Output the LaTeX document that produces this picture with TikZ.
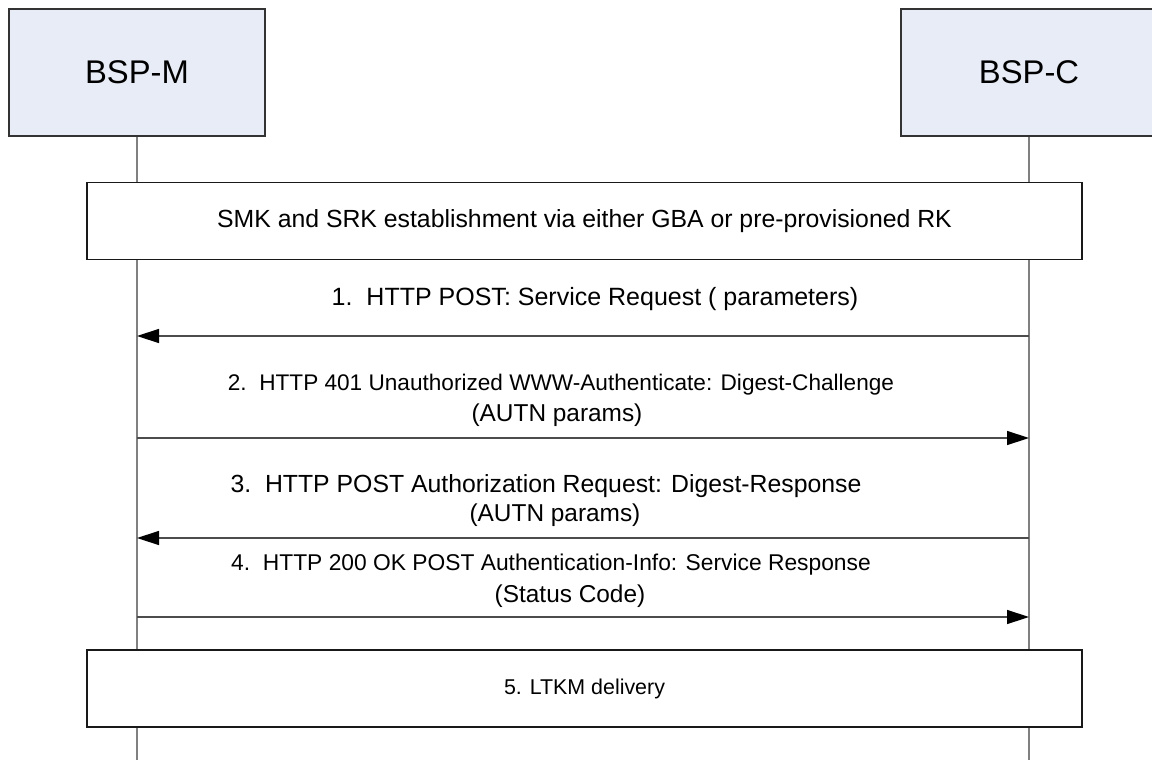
\documentclass[tikz,border=0pt]{standalone}
\usepackage{fontspec}
\setmainfont{Liberation Sans}
\usepackage{tikz}
\usetikzlibrary{arrows.meta,positioning,calc}
\definecolor{actorfill}{HTML}{E7ECF6}

\begin{document}
\begin{tikzpicture}[
  x=0.5pt, y=-0.5pt,
  actor/.style={draw=black!80, fill=actorfill, line width=0.6pt, minimum width=128pt, minimum height=63.5pt, font=\fontsize{16.4}{19}\selectfont},
  frame/.style={draw=black!90, fill=white, line width=0.6pt, minimum width=497.5pt, minimum height=38.5pt, font=\fontsize{12.4}{15}\selectfont},
  life/.style={draw=black!50, line width=0.9pt},
  msg/.style={-{Triangle[length=11pt,width=7pt,color=black]}, draw=black!70, line width=0.7pt},
  lbl/.style={font=\fontsize{12.2}{15}\selectfont, inner sep=0pt}
]
\useasboundingbox (0,0) rectangle (1152,760);
\node[actor] (M) at (137,72.5) {BSP-M};
\node[actor] (C) at (1029,72.5) {BSP-C};
\coordinate (Mend) at (137,760);
\coordinate (Cend) at (1029,760);
\draw[life] (M.south) -- (Mend);
\draw[life] (C.south) -- (Cend);
\node[frame] (smk)  at (584.5,221)   {SMK and SRK establishment via either GBA or pre-provisioned RK};
\node[frame, font=\fontsize{10.7}{13}\selectfont] (ltkm) at (584.5,688.5) {5. LTKM delivery};
% message end points on the lifelines
\coordinate (M1) at (137,336);  \coordinate (C1) at (1029,336);
\coordinate (M2) at (137,438);  \coordinate (C2) at (1029,438);
\coordinate (M3) at (137,538);  \coordinate (C3) at (1029,538);
\coordinate (M4) at (137,617);  \coordinate (C4) at (1029,617);
\node[lbl, font=\fontsize{12.5}{15}\selectfont] (l1) at (595,299) {1.\ \ HTTP POST: Service Request ( parameters)};
\node[lbl, font=\fontsize{11.3}{15}\selectfont] (l2) at (561,385) {2.\ \ HTTP 401 Unauthorized WWW-Authenticate: Digest-Challenge};
\node[lbl] (l2b) at (557,415) {(AUTN params)};
\node[lbl, font=\fontsize{12.4}{15}\selectfont] (l3) at (546,486) {3.\ \ HTTP POST Authorization Request: Digest-Response};
\node[lbl] (l3b) at (555,515) {(AUTN params)};
\node[lbl, font=\fontsize{11.4}{15}\selectfont] (l4) at (551,565) {4.\ \ HTTP 200 OK POST Authentication-Info: Service Response};
\node[lbl] (l4b) at (570,596) {(Status Code)};
\draw[msg] (C1) -- (M1);
\draw[msg] (M2) -- (C2);
\draw[msg] (C3) -- (M3);
\draw[msg] (M4) -- (C4);
\end{tikzpicture}
\end{document}
